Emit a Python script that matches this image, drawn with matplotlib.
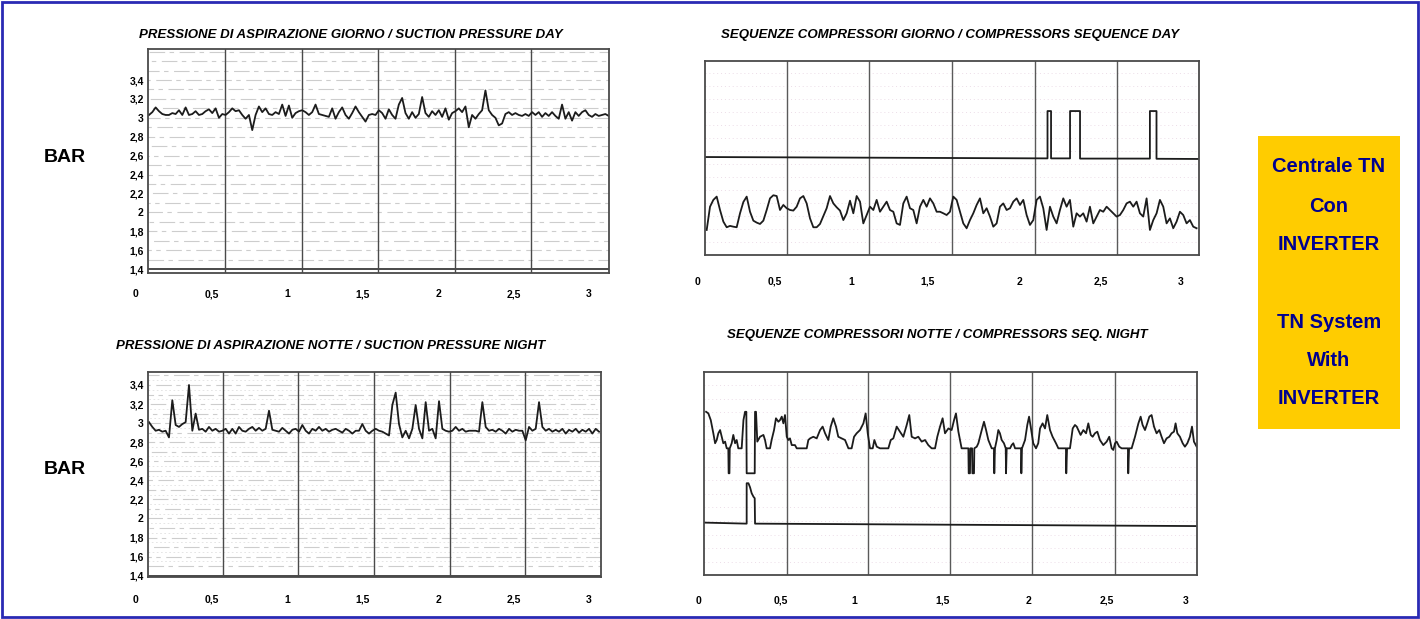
"""Pressione di aspirazione e sequenze compressori (giorno / notte),
centrale TN con inverter. Tracciati letti dal grafico registrato.
"""

import matplotlib.pyplot as plt
import numpy as np
from matplotlib.patches import Rectangle

plt.rcParams["font.family"] = ["Liberation Sans", "DejaVu Sans"]

# --- Dati --------------------------------------------------------------------
# pressione di aspirazione giorno (bar), un campione ogni ~1,3 min
p_giorno = [
    3.03, 3.06, 3.11, 3.07, 3.04, 3.03, 3.03, 3.05, 3.04, 3.08,
    3.03, 3.11, 3.03, 3.04, 3.07, 3.03, 3.04, 3.07, 3.09, 3.05,
    3.10, 3.00, 3.04, 3.03, 3.06, 3.10, 3.07, 3.08, 3.03, 2.99,
    3.03, 2.87, 3.03, 3.12, 3.06, 3.10, 3.04, 3.03, 3.06, 3.04,
    3.14, 3.02, 3.13, 3.00, 3.05, 3.07, 3.08, 3.06, 3.03, 3.06,
    3.14, 3.04, 3.03, 3.02, 3.01, 3.10, 2.99, 3.06, 3.11, 3.03,
    2.99, 3.05, 3.12, 3.06, 3.01, 2.96, 3.03, 3.04, 3.03, 3.08,
    3.05, 2.99, 3.09, 3.03, 2.99, 3.14, 3.21, 3.05, 2.99, 3.06,
    3.00, 3.04, 3.22, 3.05, 3.01, 3.07, 3.03, 3.08, 3.01, 3.10,
    2.98, 3.05, 3.07, 3.10, 3.06, 3.12, 2.90, 3.03, 2.99, 3.04,
    3.08, 3.29, 3.08, 3.03, 3.00, 2.92, 2.94, 3.04, 3.06, 3.03,
    3.05, 3.03, 3.02, 3.04, 3.02, 3.06, 3.03, 3.06, 3.01, 3.05,
    3.02, 3.06, 3.02, 2.99, 3.14, 2.99, 3.06, 2.97, 3.06, 3.02,
    3.06, 3.08, 3.03, 3.01, 3.04, 3.02, 3.03, 3.04, 3.02,
]
t_giorno = np.linspace(0.086, 3.130, len(p_giorno))

# pressione di aspirazione notte (bar)
p_notte = [
    3.01, 2.96, 2.92, 2.93, 2.91, 2.92, 2.85, 3.24, 2.98, 2.96,
    2.99, 3.01, 3.40, 2.92, 3.10, 2.93, 2.94, 2.91, 2.96, 2.92,
    2.94, 2.91, 2.92, 2.94, 2.89, 2.94, 2.89, 2.96, 2.92, 2.91,
    2.94, 2.96, 2.92, 2.95, 2.92, 2.94, 3.13, 2.93, 2.92, 2.91,
    2.95, 2.92, 2.89, 2.93, 2.94, 2.91, 2.98, 2.92, 2.89, 2.94,
    2.92, 2.96, 2.92, 2.94, 2.91, 2.93, 2.94, 2.92, 2.90, 2.94,
    2.92, 2.89, 2.92, 2.92, 2.99, 2.92, 2.89, 2.92, 2.94, 2.92,
    2.91, 2.89, 2.87, 3.19, 3.32, 2.99, 2.85, 2.92, 2.84, 2.94,
    3.19, 2.94, 2.84, 3.22, 2.92, 2.94, 2.84, 3.23, 2.94, 2.92,
    2.91, 2.92, 2.96, 2.92, 2.94, 2.91, 2.92, 2.92, 2.92, 2.91,
    3.22, 2.96, 2.92, 2.93, 2.91, 2.94, 2.92, 2.89, 2.94, 2.91,
    2.93, 2.92, 2.92, 2.82, 2.96, 2.92, 2.94, 3.22, 2.96, 2.92,
    2.94, 2.91, 2.93, 2.91, 2.94, 2.89, 2.93, 2.91, 2.94, 2.90,
    2.93, 2.91, 2.94, 2.89, 2.94, 2.91,
]
t_notte = np.linspace(0.086, 3.066, len(p_notte))

# sequenza compressori giorno: segnale di modulazione (scala 0-100)
mod_giorno = [
    12.9, 24.9, 28.4, 30.1, 23.2, 17.2, 14.3, 15.0, 14.6, 14.3,
    21.5, 27.3, 30.1, 22.3, 17.7, 16.7, 16.0, 17.7, 23.2, 29.2,
    30.8, 30.4, 23.2, 25.8, 24.1, 23.2, 22.9, 24.9, 29.2, 30.4,
    26.6, 18.9, 14.3, 14.3, 16.0, 20.1, 24.1, 30.4, 26.6, 24.6,
    22.9, 18.0, 21.5, 28.0, 21.5, 30.4, 27.5, 16.3, 20.6, 24.9,
    23.2, 28.4, 22.3, 24.9, 27.5, 23.2, 22.3, 16.3, 15.5, 26.6,
    30.1, 24.1, 23.2, 16.3, 24.9, 28.4, 24.9, 29.2, 26.6, 22.3,
    22.3, 21.5, 20.6, 22.3, 30.1, 28.4, 22.3, 16.3, 13.8, 18.0,
    21.5, 25.8, 29.2, 21.5, 24.1, 19.8, 14.6, 16.3, 24.9, 26.6,
    23.2, 24.1, 27.5, 29.2, 25.8, 28.4, 20.6, 15.5, 18.0, 28.4,
    30.1, 24.1, 12.9, 24.9, 19.8, 16.3, 23.2, 29.2, 24.9, 28.4,
    14.6, 21.5, 19.8, 21.5, 17.2, 24.9, 16.3, 19.8, 23.2, 22.3,
    24.9, 23.2, 21.5, 19.8, 20.6, 23.2, 26.6, 27.5, 24.9, 27.5,
    21.5, 19.8, 29.2, 12.9, 18.0, 21.5, 28.4, 24.9, 16.3, 18.9,
    13.8, 17.2, 22.3, 20.6, 16.3, 18.0, 14.6, 13.8,
]
t_mod_giorno = np.linspace(0.054, 3.097, len(mod_giorno))

# inserimento secondo compressore giorno (gradini)
step_giorno_t = [0.044, 2.171, 2.171, 2.193, 2.193, 2.311, 2.311, 2.373,
                 2.373, 2.807, 2.807, 2.848, 2.848, 3.110]
step_giorno_v = [50.5, 49.8, 74.2, 74.2, 49.8, 49.8, 74.2, 74.2,
                 49.7, 49.7, 74.2, 74.2, 49.6, 49.5]

# sequenza compressori notte: segnale di modulazione
mod_notte_t = [
    0.050, 0.064, 0.079, 0.095, 0.106, 0.116, 0.126, 0.137, 0.147, 0.157,
    0.168, 0.178, 0.188, 0.190, 0.195, 0.197, 0.209, 0.219, 0.230, 0.240,
    0.250, 0.271, 0.282, 0.292, 0.300, 0.302, 0.352, 0.354, 0.360, 0.368,
    0.385, 0.406, 0.416, 0.426, 0.447, 0.457, 0.472, 0.484, 0.499, 0.509,
    0.520, 0.530, 0.540, 0.551, 0.561, 0.571, 0.582, 0.602, 0.613, 0.675,
    0.685, 0.696, 0.716, 0.737, 0.758, 0.774, 0.789, 0.809, 0.824, 0.840,
    0.857, 0.871, 0.892, 0.913, 0.934, 0.954, 0.969, 0.985, 1.006, 1.027,
    1.041, 1.054, 1.068, 1.085, 1.095, 1.110, 1.130, 1.182, 1.197, 1.213,
    1.234, 1.254, 1.275, 1.296, 1.312, 1.327, 1.348, 1.368, 1.389, 1.410,
    1.430, 1.451, 1.472, 1.486, 1.503, 1.519, 1.534, 1.555, 1.575, 1.590,
    1.602, 1.617, 1.637, 1.679, 1.681, 1.689, 1.691, 1.702, 1.704, 1.714,
    1.716, 1.731, 1.741, 1.762, 1.776, 1.789, 1.803, 1.824, 1.838, 1.840,
    1.844, 1.855, 1.865, 1.875, 1.886, 1.900, 1.911, 1.913, 1.917, 1.938,
    1.948, 1.958, 1.969, 2.006, 2.008, 2.012, 2.031, 2.045, 2.056, 2.066,
    2.082, 2.099, 2.113, 2.124, 2.140, 2.155, 2.169, 2.186, 2.202, 2.223,
    2.238, 2.285, 2.287, 2.292, 2.310, 2.327, 2.341, 2.352, 2.362, 2.376,
    2.393, 2.410, 2.424, 2.439, 2.451, 2.465, 2.480, 2.496, 2.517, 2.538,
    2.554, 2.569, 2.579, 2.590, 2.600, 2.616, 2.631, 2.670, 2.672, 2.677,
    2.693, 2.714, 2.735, 2.749, 2.761, 2.776, 2.790, 2.803, 2.817, 2.832,
    2.848, 2.865, 2.879, 2.894, 2.910, 2.927, 2.941, 2.956, 2.966, 2.977,
    2.993, 3.010, 3.024, 3.039, 3.055, 3.068, 3.080, 3.097,
]
mod_notte_v = [
    80.4, 79.6, 76.3, 69.8, 64.9, 66.5, 69.8, 71.4, 68.1, 64.9,
    65.7, 62.4, 62.4, 50.1, 50.1, 62.4, 64.9, 69.0, 64.9, 66.5,
    62.4, 62.4, 76.3, 80.4, 80.4, 50.1, 50.1, 80.4, 80.4, 65.7,
    68.1, 69.0, 66.5, 62.4, 62.4, 66.5, 71.4, 77.2, 75.5, 76.3,
    78.0, 74.7, 78.8, 68.1, 66.5, 67.3, 64.0, 64.0, 62.4, 62.4,
    66.5, 67.3, 68.1, 67.3, 71.4, 73.1, 69.8, 66.5, 73.1, 77.2,
    73.1, 68.1, 67.3, 66.5, 62.4, 62.4, 68.1, 69.8, 71.4, 74.7,
    79.6, 69.8, 62.4, 62.4, 66.5, 63.2, 62.4, 62.4, 66.5, 67.3,
    73.1, 70.6, 68.1, 73.9, 78.8, 68.1, 67.3, 68.1, 65.7, 66.5,
    64.0, 62.4, 62.4, 68.1, 73.1, 77.2, 69.8, 72.2, 71.4, 76.3,
    79.6, 70.6, 62.4, 62.4, 50.1, 50.1, 62.4, 62.4, 50.1, 50.1,
    62.4, 63.2, 64.9, 71.4, 75.5, 71.4, 66.5, 62.4, 62.4, 50.1,
    62.4, 66.5, 71.4, 69.8, 66.5, 64.9, 62.4, 50.1, 62.4, 62.4,
    64.0, 64.9, 62.4, 62.4, 50.1, 62.4, 66.5, 73.9, 78.0, 73.1,
    64.9, 62.4, 64.9, 72.2, 74.7, 72.2, 78.8, 71.4, 68.1, 64.9,
    62.4, 62.4, 50.1, 62.4, 62.4, 72.2, 73.9, 73.1, 71.4, 69.0,
    71.4, 69.8, 74.7, 69.0, 68.1, 69.8, 70.6, 66.5, 64.0, 65.7,
    68.1, 62.4, 61.6, 64.9, 65.7, 63.2, 62.4, 62.4, 50.1, 62.4,
    62.4, 68.1, 74.7, 78.0, 73.9, 71.4, 74.7, 78.0, 78.8, 73.1,
    69.8, 71.4, 68.1, 64.9, 67.3, 68.1, 69.8, 70.6, 74.7, 69.8,
    68.1, 64.9, 63.2, 64.9, 68.1, 73.1, 65.7, 63.2,
]

# secondo compressore notte
step_notte_t = [0.043, 0.302, 0.302, 0.313, 0.323, 0.333, 0.344, 0.352,
                0.354, 3.101]
step_notte_v = [25.8, 25.3, 45.2, 45.2, 43.2, 40.3, 38.6, 37.8, 25.3, 24.1]

y_ticks = [1.4, 1.6, 1.8, 2.0, 2.2, 2.4, 2.6, 2.8, 3.0, 3.2, 3.4]
y_labels = ["1,4", "1,6", "1,8", "2", "2,2", "2,4", "2,6", "2,8", "3", "3,2", "3,4"]
x_labels = ["0", "0,5", "1", "1,5", "2", "2,5", "3"]
x_pos_pressione = [0, 0.5, 1, 1.5, 2, 2.5, 3]
x_pos_seq_giorno = [0, 0.478, 0.950, 1.429, 1.994, 2.503, 3.0]
x_pos_seq_notte = [0, 0.516, 0.968, 1.520, 2.050, 2.540, 3.030]

# --- Figura -------------------------------------------------------------------
W, H = 1420, 619
fig = plt.figure(figsize=(W / 100, H / 100), dpi=100)
fig.patch.set_facecolor("white")

TRACCIA = "#1c1c1c"
BORDO = "#4a4a4a"


def rect_px(left, top, right, bottom):
    return [left / W, 1 - bottom / H, (right - left) / W, (bottom - top) / H]


def cornice(ax):
    for s in ax.spines.values():
        s.set_color(BORDO)
        s.set_linewidth(1.3)
    ax.set_xticks([])


def etichette_x(ax, posizioni, y_ax):
    for x, lab in zip(posizioni, x_labels):
        ax.text(x, y_ax, lab, transform=ax.get_xaxis_transform(), ha="center",
                va="center", fontsize=7.5, fontweight="bold", clip_on=False)


def pannello_pressione(rect, xlim, ylim, t, p, vlines, y_lab, fitta):
    ax = fig.add_axes(rect)
    ax.set_xlim(*xlim)
    ax.set_ylim(*ylim)
    # righe della carta: tratteggi sfalsati per non allinearli in colonna
    for i, liv in enumerate(np.arange(1.5, 3.75, 0.1)):
        ax.axhline(liv, color="#cdcdcd", linewidth=0.8,
                   linestyle=((i * 11) % 27, (14, 4, 4, 5)))
        if fitta:
            ax.axhline(liv + 0.05, color="#e0e0e0", linewidth=0.6,
                       linestyle=((i * 5) % 9, (2, 3)))
    ax.axhline(1.4, color="#3a3a3a", linewidth=1.3)
    for x in vlines:
        ax.axvline(x, color="#4a4a4a", linewidth=1.0)
    ax.plot(t, p, color=TRACCIA, linewidth=1.3)
    cornice(ax)
    ax.set_yticks(y_ticks)
    ax.set_yticklabels(y_labels, fontsize=7.5, fontweight="bold")
    ax.tick_params(axis="y", length=0, pad=3)
    etichette_x(ax, x_pos_pressione, y_lab)
    return ax


def pannello_sequenza(rect, xlim, vlines, y_lab, pos_lab):
    ax = fig.add_axes(rect)
    ax.set_xlim(*xlim)
    ax.set_ylim(0, 100)
    ax.hlines(np.arange(6.5, 100, 6.7), *xlim, colors="#ecdde8",
              linewidth=0.7, linestyles=(0, (1, 3)))
    for x in vlines:
        ax.axvline(x, color="#5a5a5a", linewidth=1.0)
    cornice(ax)
    ax.set_yticks([])
    etichette_x(ax, pos_lab, y_lab)
    return ax


ax1 = pannello_pressione(rect_px(148, 49, 609, 273), (0.0795, 3.132),
                         (1.358, 3.728), t_giorno, p_giorno,
                         [0.589, 1.099, 1.603, 2.113, 2.616], -0.094, False)

ax3 = pannello_pressione(rect_px(148, 372, 601, 577), (0.0795, 3.079),
                         (1.386, 3.536), t_notte, p_notte,
                         [0.574, 1.076, 1.576, 2.079, 2.574], -0.112, True)

ax2 = pannello_sequenza(rect_px(705, 61, 1199, 255), (0.0435, 3.112),
                        [0.553, 1.065, 1.578, 2.093, 2.602], -0.139,
                        x_pos_seq_giorno)
ax2.plot(step_giorno_t, step_giorno_v, color=TRACCIA, linewidth=1.3)
ax2.plot(t_mod_giorno, mod_giorno, color=TRACCIA, linewidth=1.3)

ax4 = pannello_sequenza(rect_px(704, 372, 1197, 575), (0.037, 3.099),
                        [0.550, 1.056, 1.565, 2.075, 2.590], -0.127,
                        x_pos_seq_notte)
ax4.plot(step_notte_t, step_notte_v, color=TRACCIA, linewidth=1.3)
ax4.plot(mod_notte_t, mod_notte_v, color=TRACCIA, linewidth=1.3)

# --- Testi --------------------------------------------------------------------
titoli = [
    (351, 35, "PRESSIONE DI ASPIRAZIONE GIORNO / SUCTION PRESSURE DAY"),
    (950, 35, "SEQUENZE COMPRESSORI GIORNO / COMPRESSORS SEQUENCE DAY"),
    (331, 346, "PRESSIONE DI ASPIRAZIONE NOTTE / SUCTION PRESSURE NIGHT"),
    (937, 335, "SEQUENZE COMPRESSORI NOTTE / COMPRESSORS SEQ. NIGHT"),
]
for x, y, testo in titoli:
    fig.text(x / W, 1 - y / H, testo, ha="center", va="center", fontsize=9.5,
             fontweight="bold", fontstyle="italic")

for y in (158, 469):
    fig.text(65 / W, 1 - y / H, "BAR", ha="center", va="center", fontsize=14,
             fontweight="bold")

# riquadro giallo
fig.patches.append(Rectangle((1258 / W, 1 - 429 / H), 142 / W, 293 / H,
                             transform=fig.transFigure, facecolor="#FFCC00",
                             edgecolor="none"))
righe = [(167, "Centrale TN"), (206, "Con"), (245, "INVERTER"),
         (322, "TN System"), (360, "With"), (399, "INVERTER")]
for y, testo in righe:
    fig.text(1329 / W, 1 - y / H, testo, ha="center", va="center",
             fontsize=14.5, fontweight="bold", color="#00008f")

# cornice blu esterna
fig.patches.append(Rectangle((2 / W, 2 / H), 1416 / W, 615 / H,
                             transform=fig.transFigure, facecolor="none",
                             edgecolor="#2a2ab4", linewidth=2))

fig.savefig("out.png", dpi=100)
